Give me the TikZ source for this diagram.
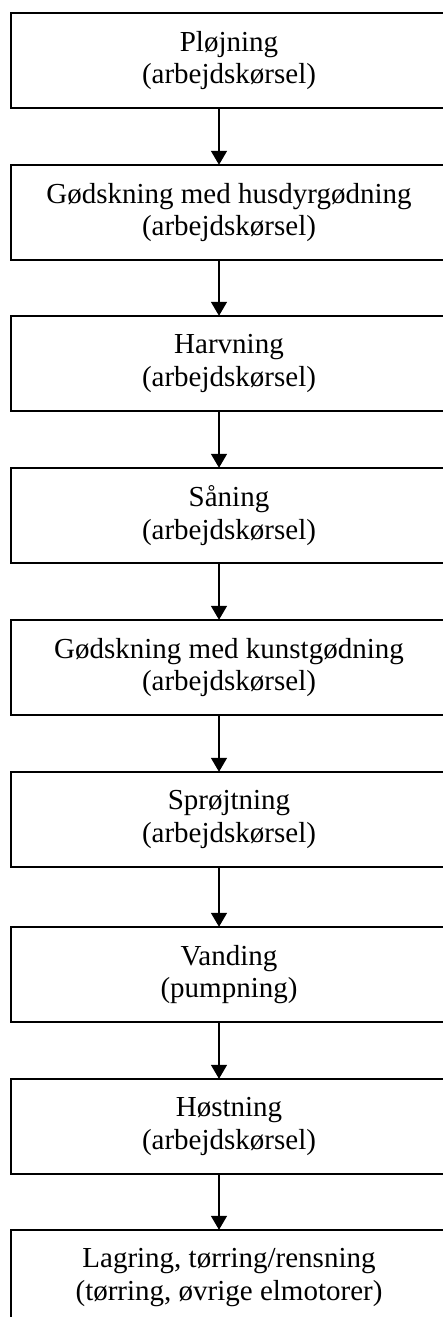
\documentclass[tikz,border=0pt]{standalone}
\usepackage{fontspec}
\setmainfont{Liberation Serif}
\usetikzlibrary{arrows.meta}
\begin{document}
\begin{tikzpicture}[x=1pt,y=-1pt,
  stepbox/.style={rectangle,minimum width=436pt,
    minimum height=95pt,inner sep=0pt,align=center,
    font=\fontsize{29}{32.5}\selectfont},
  frame/.style={draw=black,line width=2pt},
  flow/.style={draw=black,line width=1.5pt,-{Triangle[width=16pt,length=14pt]}}]
\useasboundingbox (0,0) rectangle (443,1317);
\clip (0,0) rectangle (443,1317);
% process steps, top to bottom
\node[stepbox] (s1) at (229,60.5)   {Pløjning\\(arbejdskørsel)};
\node[stepbox] (s2) at (229,212.5)  {Gødskning med husdyrgødning\\(arbejdskørsel)};
\node[stepbox] (s3) at (229,363.5)  {Harvning\\(arbejdskørsel)};
\node[stepbox] (s4) at (229,515.5)  {Såning\\(arbejdskørsel)};
\node[stepbox] (s5) at (229,667.5)  {Gødskning med kunstgødning\\(arbejdskørsel)};
\node[stepbox] (s6) at (229,819.5)  {Sprøjtning\\(arbejdskørsel)};
\node[stepbox] (s7) at (229,974.5)  {Vanding\\(pumpning)};
\node[stepbox] (s8) at (229,1126.5) {Høstning\\(arbejdskørsel)};
\node[stepbox] (s9) at (229,1277.5) {Lagring, tørring/rensning\\(tørring, øvrige elmotorer)};
% frames run on past the right edge of the page
\foreach \s in {s1,s2,s3,s4,s5,s6,s7,s8,s9}
  \draw[frame] (\s.north west) rectangle ([xshift=20pt]\s.south east);
% connecting arrows
\foreach \a/\b in {s1/s2,s2/s3,s3/s4,s4/s5,s5/s6,s6/s7,s7/s8,s8/s9}
  \draw[flow] ([xshift=-10pt]\a.south) -- ([xshift=-10pt]\b.north);
\end{tikzpicture}
\end{document}
